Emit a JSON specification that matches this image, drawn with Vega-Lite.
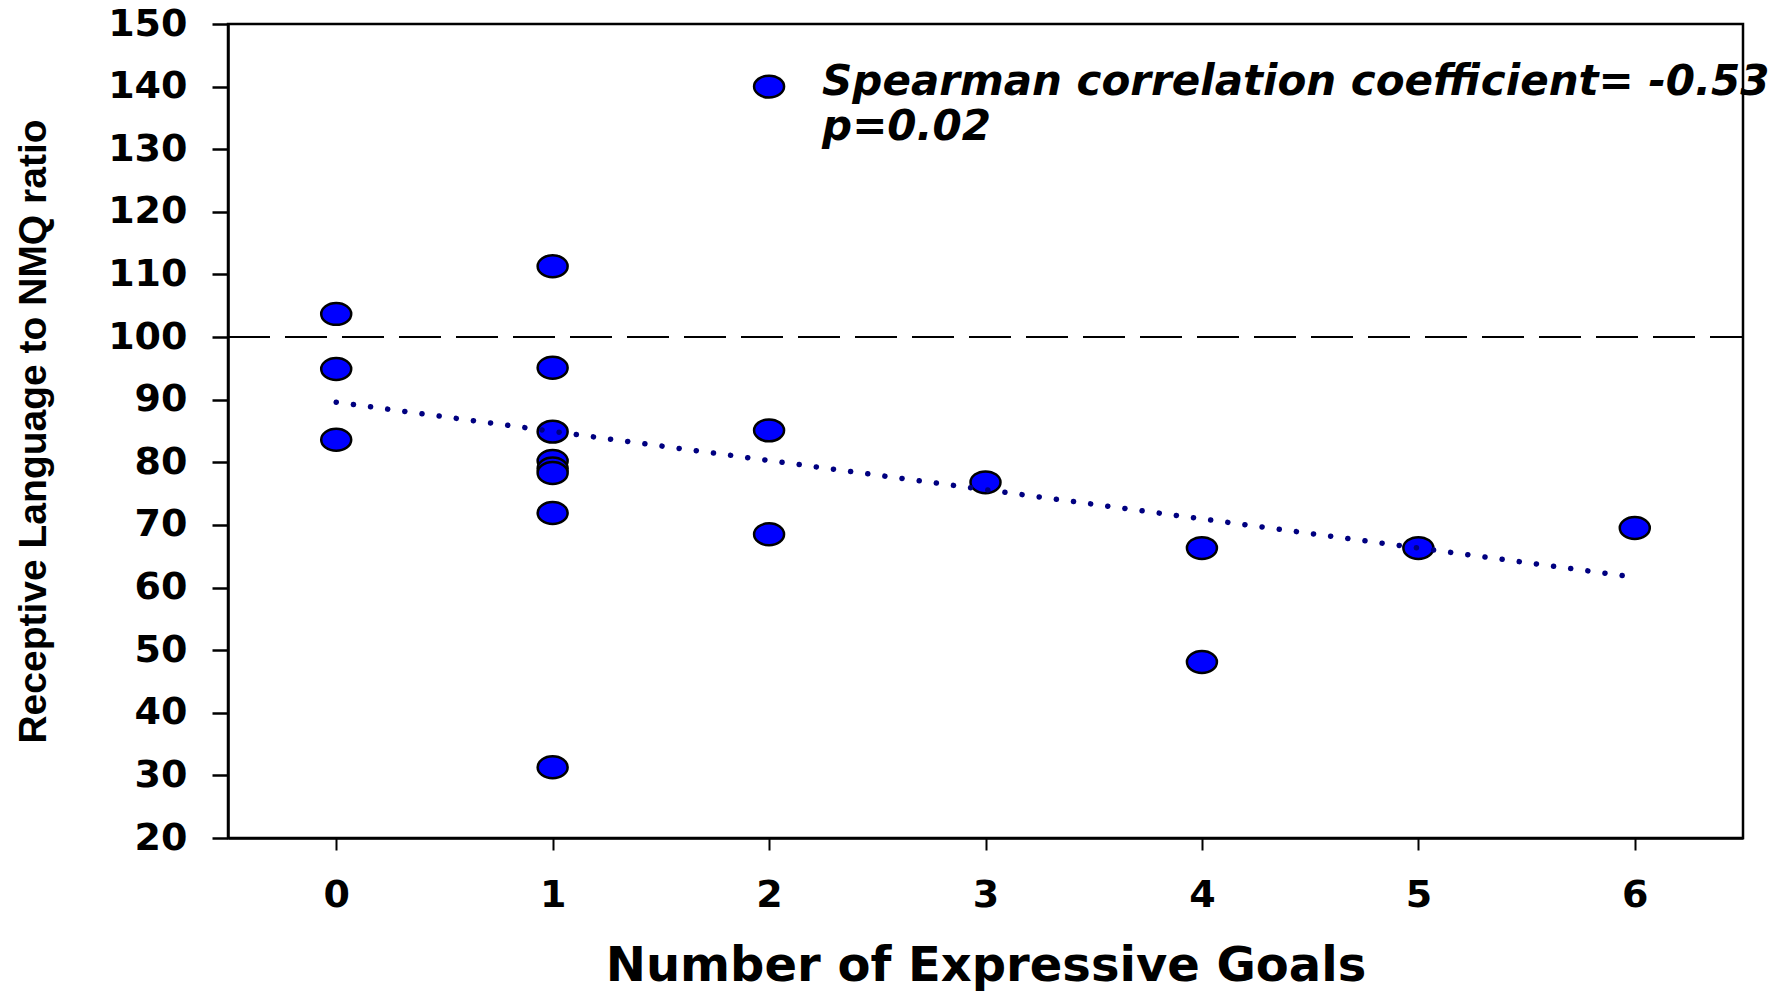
{
  "$schema": "https://vega.github.io/schema/vega-lite/v6.json",
  "width": 1515,
  "height": 814,
  "autosize": {"type": "none"},
  "padding": {"left": 228, "top": 24, "right": 44, "bottom": 157},
  "background": "white",
  "config": {
    "view": {"stroke": "black", "strokeWidth": 2.5},
    "axis": {"grid": false, "domainColor": "black", "tickColor": "black", "labelColor": "black", "titleColor": "black", "labelOverlap": false, "labelFlush": false}
  },
  "encoding": {
    "x": {
      "field": "x", "type": "quantitative",
      "scale": {"domain": [-0.5, 6.5], "nice": false, "zero": false},
      "axis": {
        "title": "Number of Expressive Goals",
        "values": [0, 1, 2, 3, 4, 5, 6],
        "format": "d",
        "domainWidth": 2.5, "tickWidth": 2, "tickSize": 12,
        "labelFont": "DejaVu Sans", "labelFontSize": 38, "labelFontWeight": "bold", "labelPadding": 26,
        "titleFont": "DejaVu Sans", "titleFontSize": 48, "titleFontWeight": "bold", "titlePadding": 28
      }
    },
    "y": {
      "field": "y", "type": "quantitative",
      "scale": {"domain": [20, 150], "nice": false, "zero": false},
      "axis": {
        "title": "Receptive Language to NMQ ratio",
        "values": [20, 30, 40, 50, 60, 70, 80, 90, 100, 110, 120, 130, 140, 150],
        "format": "d",
        "domainWidth": 2.5, "tickWidth": 2.5, "tickSize": 16,
        "labelFont": "DejaVu Sans", "labelFontSize": 38, "labelFontWeight": "bold", "labelPadding": 25,
        "titleFont": "Liberation Sans", "titleFontSize": 39, "titleFontWeight": "bold", "titlePadding": 54
      }
    }
  },
  "layer": [
    {
      "data": {"values": [{"x": -0.5, "y": 100}, {"x": 6.5, "y": 100}]},
      "mark": {"type": "line", "color": "black", "strokeWidth": 2, "strokeDash": [42, 15]}
    },
    {
      "data": {"values": [
        {"x": 0, "y": 103.7}, {"x": 0, "y": 94.9}, {"x": 0, "y": 83.6},
        {"x": 1, "y": 111.3}, {"x": 1, "y": 95.1}, {"x": 1, "y": 84.9}, {"x": 1, "y": 80.2}, {"x": 1, "y": 79.0}, {"x": 1, "y": 78.3}, {"x": 1, "y": 71.9}, {"x": 1, "y": 31.3},
        {"x": 2, "y": 85.1}, {"x": 2, "y": 68.5},
        {"x": 3, "y": 76.8},
        {"x": 4, "y": 66.3}, {"x": 4, "y": 48.1},
        {"x": 5, "y": 66.3},
        {"x": 6, "y": 69.5},
        {"x": 2, "y": 140}
      ]},
      "mark": {"type": "point", "shape": "M-1,0A1,0.73,0,1,1,1,0A1,0.73,0,1,1,-1,0Z", "size": 900, "filled": true, "fill": "#0000FF", "stroke": "black", "strokeWidth": 2.5, "opacity": 1}
    },
    {
      "data": {"values": [{"x": 0, "y": 89.6}, {"x": 6, "y": 61.65}]},
      "mark": {"type": "line", "color": "#000080", "strokeWidth": 5.5, "strokeCap": "round", "strokeDash": [0.1, 17.2]}
    },
    {
      "data": {"values": [
        {"x": 2.245, "y": 138.7, "label": "Spearman correlation coefficient= -0.53"},
        {"x": 2.245, "y": 131.5, "label": "p=0.02"}
      ]},
      "mark": {"type": "text", "align": "left", "baseline": "alphabetic", "font": "DejaVu Sans", "fontSize": 42, "fontWeight": "bold", "fontStyle": "italic", "color": "black"},
      "encoding": {"text": {"field": "label"}}
    }
  ]
}
